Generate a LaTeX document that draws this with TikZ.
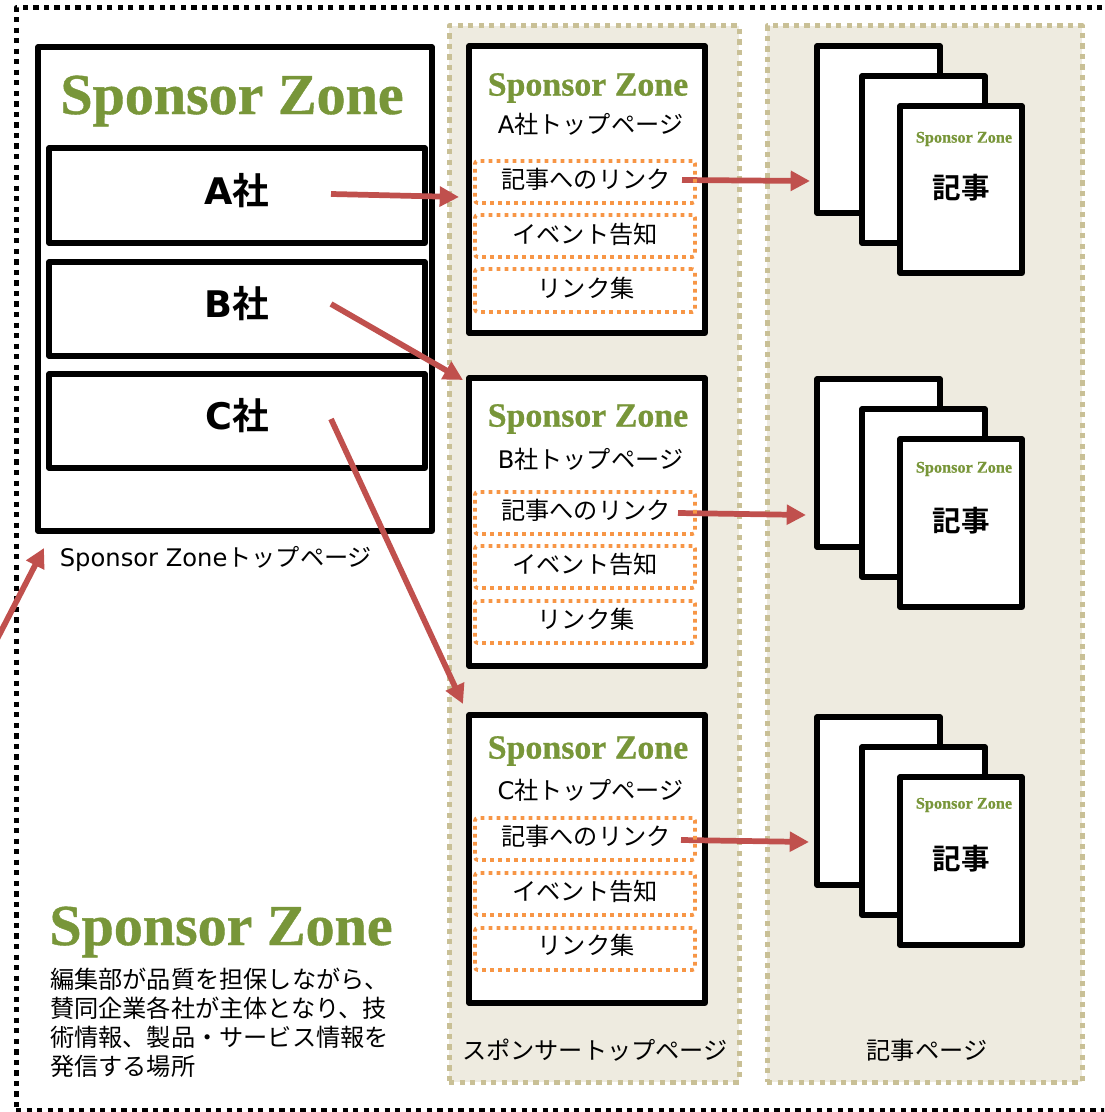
\documentclass[tikz,border=0pt]{standalone}
\usepackage{fontspec}
\usetikzlibrary{arrows.meta}
\setmainfont{DejaVu Sans}
\newfontfamily\jpfont{Noto Sans CJK JP}
\newfontfamily\jpboldfont{Noto Sans CJK JP Bold}
\newfontfamily\zonefont[FakeBold=0.7]{Liberation Serif Bold}
\newfontfamily\latbold{DejaVu Sans Bold}
\definecolor{zonegreen}{HTML}{789639}
\definecolor{panelfill}{HTML}{EEEBE0}
\definecolor{paneledge}{HTML}{C9C096}
\definecolor{linkorange}{HTML}{F79646}
\definecolor{arrowred}{HTML}{C0504D}
\newcommand{\J}[1]{{\jpfont #1}}
\newcommand{\JB}[1]{{\jpboldfont #1}}
\newcommand{\fs}[1]{\fontsize{#1}{#1}\selectfont}
\tikzset{
  bx/.style={rectangle,inner sep=0pt,outer sep=0pt,line join=round},
  pagebox/.style={bx,draw=black,line width=3.8pt,fill=white},
  panelbox/.style={bx,draw=paneledge,line width=3.75pt,fill=panelfill,dash pattern=on 4pt off 3.9pt},
  framebox/.style={bx,draw=black,line width=3.75pt,dash pattern=on 3.9pt off 4pt},
  linkbox/.style={bx,draw=linkorange,line width=2.8pt,dash pattern=on 2.8pt off 3.2pt,rounded corners=2pt},
  redarrow/.style={draw=arrowred,line width=4.3pt,-{Triangle[length=14.5pt,width=14.5pt]}},
  label/.style={inner sep=0pt,outer sep=0pt,text=black,font=\fs{18.15}},
  zonelabel/.style={inner sep=0pt,outer sep=0pt,text=zonegreen,font=\zonefont},
}
% name, x1, y1, x2, y2, style
\newcommand{\boxnode}[6]{%
  \pgfmathsetmacro{\cx}{(#2+#4)/2}\pgfmathsetmacro{\cy}{(#3+#5)/2}%
  \pgfmathsetmacro{\bw}{(#4-#2)*0.75}\pgfmathsetmacro{\bh}{(#5-#3)*0.75}%
  \node[#6,minimum width=\bw pt,minimum height=\bh pt] (#1) at (\cx,\cy) {};}
\begin{document}
\begin{tikzpicture}[x=0.75pt,y=-0.75pt]
\useasboundingbox (0,0) rectangle (1104,1112);
\clip (0,0) rectangle (1104,1112);
\fill[white] (0,0) rectangle (1104,1112);
\boxnode{frame}{16}{8}{1130}{1110}{framebox}
\boxnode{panelL}{449}{26}{739}{1082}{panelbox}
\boxnode{panelR}{767}{26}{1082}{1082}{panelbox}
% main page
\boxnode{main}{38}{47}{432}{531}{pagebox}
\boxnode{coA}{49}{148}{425}{243}{pagebox}
\boxnode{coB}{49}{262}{425}{356}{pagebox}
\boxnode{coC}{49}{374}{425}{468}{pagebox}
\node[zonelabel,font=\zonefont\fs{43.5}] (zMain) at (232,101) {Sponsor Zone};
\node[label,font=\fs{27.5}] (tA) at (237,191) {{\latbold A}\JB{社}};
\node[label,font=\fs{27.5}] (tB) at (237,304) {{\latbold B}\JB{社}};
\node[label,font=\fs{27.5}] (tC) at (237,416) {{\latbold C}\JB{社}};
\node[label] (tMain) at (216,559) {Sponsor Zone\J{トップページ}};
% sponsor top pages
\boxnode{topA}{469}{46}{705}{333}{pagebox}
\boxnode{topB}{469}{378}{705}{666}{pagebox}
\boxnode{topC}{469}{715}{705}{1003}{pagebox}
% article stacks
\boxnode{a1}{817}{46}{940}{213}{pagebox}
\boxnode{a2}{862}{76}{985}{243}{pagebox}
\boxnode{a3}{900}{106}{1022}{273}{pagebox}
\boxnode{b1}{817}{379}{940}{547}{pagebox}
\boxnode{b2}{862}{409}{985}{577}{pagebox}
\boxnode{b3}{900}{439}{1022}{607}{pagebox}
\boxnode{c1}{817}{717}{940}{885}{pagebox}
\boxnode{c2}{862}{747}{985}{915}{pagebox}
\boxnode{c3}{900}{777}{1022}{945}{pagebox}
% arrow ends
\coordinate (sA) at (331,194); \coordinate (eA) at (459,197);
\coordinate (sB) at (331,304); \coordinate (eB) at (463,380);
\coordinate (sC) at (331,419); \coordinate (eC) at (463,704);
\coordinate (sLA) at (682,180); \coordinate (eLA) at (810,181);
\coordinate (sLB) at (678,513); \coordinate (eLB) at (806,515);
\coordinate (sLC) at (681,840); \coordinate (eLC) at (809,842);
\coordinate (sIn) at (-6,645); \coordinate (eIn) at (44,548);
\draw[redarrow] (sLA) -- (eLA);
\draw[redarrow] (sLB) -- (eLB);
\draw[redarrow] (sLC) -- (eLC);
% link boxes
\boxnode{la1}{475}{161}{695}{203}{linkbox}
\boxnode{la2}{475}{215}{695}{257}{linkbox}
\boxnode{la3}{475}{269}{695}{312}{linkbox}
\boxnode{lb1}{475}{492}{695}{534}{linkbox}
\boxnode{lb2}{475}{546}{695}{588}{linkbox}
\boxnode{lb3}{475}{601}{695}{643}{linkbox}
\boxnode{lc1}{475}{818}{695}{860}{linkbox}
\boxnode{lc2}{475}{873}{695}{915}{linkbox}
\boxnode{lc3}{475}{928}{695}{970}{linkbox}
\draw[redarrow] (sA) -- (eA);
\draw[redarrow] (sB) -- (eB);
\draw[redarrow] (sC) -- (eC);
\draw[redarrow] (sIn) -- (eIn);
% sponsor top page texts
\node[zonelabel,font=\zonefont\fs{25.4}] (zA) at (588,88) {Sponsor Zone};
\node[zonelabel,font=\zonefont\fs{25.4}] (zB) at (588,419) {Sponsor Zone};
\node[zonelabel,font=\zonefont\fs{25.4}] (zC) at (588,751) {Sponsor Zone};
\node[label] (nA) at (590.5,124) {A\J{社トップページ}};
\node[label] (nB) at (590.5,459) {B\J{社トップページ}};
\node[label] (nC) at (590.5,790) {C\J{社トップページ}};
\foreach \nm/\ya/\yb/\yc in {a/179/234/288,b/510/564/619,c/836/891/945}{
  \node[label] (x\nm1) at (586,\ya) {\J{記事へのリンク}};
  \node[label] (x\nm2) at (585,\yb) {\J{イベント告知}};
  \node[label] (x\nm3) at (586,\yc) {\J{リンク集}};
}
% article texts
\foreach \nm/\ya/\yb in {a/139/187.5,b/469/520.5,c/805/858.5}{
  \node[zonelabel,font=\zonefont\fs{12.2}] (y\nm) at (964,\ya) {Sponsor Zone};
  \node[label,font=\fs{21.4}] (w\nm) at (961,\yb) {\JB{記事}};
}
% bottom left
\node[zonelabel,font=\zonefont\fs{43.5}] (zBottom) at (221,932) {Sponsor Zone};
\node[label,anchor=west] (d1) at (50,979.5) {\J{編集部が品質を担保しながら、}};
\node[label,anchor=west] (d2) at (50,1008.5) {\J{賛同企業各社が主体となり、技}};
\node[label,anchor=west] (d3) at (50,1037.5) {\J{術情報、製品・サービス情報を}};
\node[label,anchor=west] (d4) at (50,1066.5) {\J{発信する場所}};
\node[label] (capL) at (595,1050) {\J{スポンサートップページ}};
\node[label] (capR) at (927,1050) {\J{記事ページ}};
\end{tikzpicture}
\end{document}
